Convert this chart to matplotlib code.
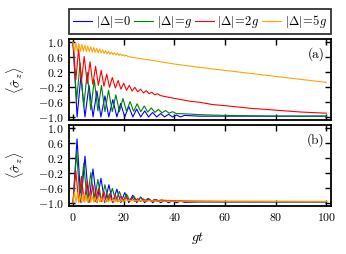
import numpy as np
import matplotlib
matplotlib.use('Agg')
import matplotlib.pyplot as plt
from matplotlib.ticker import FuncFormatter

plt.rcParams['font.family'] = 'serif'
plt.rcParams['font.serif'] = ['cmr10', 'DejaVu Serif']
plt.rcParams['mathtext.fontset'] = 'cm'
plt.rcParams['axes.unicode_minus'] = True

labels = [r'$|\Delta|\!=\!0$', r'$|\Delta|\!=\!g$', r'$|\Delta|\!=\!2g$', r'$|\Delta|\!=\!5g$']
colors = ['#0000ff', '#008000', '#ff0000', '#ffa500']
xticks = [0, 20, 40, 60, 80, 100]
yticks = [-1.0, -0.6, -0.2, 0.2, 0.6, 1.0]

# panel (a): extrema
ta_blue = [0, 1.6, 3.1, 4.7, 6.3, 7.9, 9.4, 11.0, 12.6, 14.1, 15.7, 17.3, 18.8, 20.4, 22.0, 23.6, 25.1, 26.7,
           28.3, 29.8, 31.4, 33.0, 34.6, 36.1, 37.7, 39.3, 40.8, 42.4, 44.0, 50, 60, 70, 80, 90, 100]
va_blue = [1.0, -0.99, 0.1, -0.99, -0.15, -0.99, -0.3, -0.99, -0.43, -0.99, -0.53, -0.99, -0.63, -0.99, -0.71,
           -0.99, -0.78, -0.99, -0.83, -0.99, -0.87, -0.99, -0.9, -0.99, -0.92, -0.99, -0.94, -0.99, -0.95,
           -0.97, -0.97, -0.97, -0.97, -0.97, -0.97]

ta_green = [0, 1.4, 2.8, 4.2, 5.6, 7.0, 8.4, 9.8, 11.2, 12.6, 14.0, 15.5, 16.9, 18.3, 19.7, 21.1, 22.5, 23.9,
            25.3, 26.7, 28.1, 29.5, 30.9, 32.3, 33.7, 35.1, 36.5, 37.9, 39.3, 40.7, 45, 50, 60, 70, 80, 90, 100]
va_green = [1.0, -0.55, 0.45, -0.72, 0.2, -0.8, 0.0, -0.83, -0.15, -0.85, -0.28, -0.85, -0.4, -0.85, -0.5,
            -0.84, -0.58, -0.84, -0.64, -0.85, -0.7, -0.86, -0.75, -0.87, -0.79, -0.88, -0.82, -0.89, -0.85,
            -0.9, -0.91, -0.93, -0.95, -0.96, -0.97, -0.97, -0.97]

ta_red = [0, 1.1, 2.2, 3.3, 4.4, 5.6, 6.7, 7.8, 8.9, 10.0, 11.1, 12.2, 13.3, 14.4, 15.5, 16.7, 17.8, 18.9,
          20.0, 21.1, 22.2, 23.3, 24.4, 25.5, 26.6, 27.8, 28.9, 30.0, 31.1, 32.2, 33.3, 34.4, 38, 42, 46, 50,
          55, 60, 70, 80, 90, 100]
va_red = [1.0, 0.0, 0.82, -0.05, 0.62, -0.1, 0.48, -0.12, 0.36, -0.15, 0.25, -0.17, 0.15, -0.2, 0.06, -0.22,
          -0.02, -0.25, -0.09, -0.28, -0.15, -0.3, -0.2, -0.32, -0.25, -0.35, -0.29, -0.37, -0.33, -0.4, -0.37,
          -0.42, -0.47, -0.52, -0.57, -0.6, -0.66, -0.69, -0.76, -0.81, -0.86, -0.89]

ta_orange = [0, 0.58, 1.17, 1.75, 2.33, 2.92, 3.5, 4.08, 4.67, 5.25, 5.83, 6.42, 7.0, 7.58, 8.17, 8.75, 9.33,
             9.92, 10.5, 11.08, 11.67, 12.25, 12.83, 13.42, 14.0, 14.58, 15.17, 15.75, 16.33, 16.92, 17.5,
             18.08, 18.67, 19.25, 19.83, 20.42, 21.0, 21.58, 25, 30, 40, 50, 60, 70, 80, 90, 100]
va_orange = [1.0, 0.76, 0.97, 0.76, 0.96, 0.76, 0.94, 0.76, 0.92, 0.75, 0.9, 0.75, 0.88, 0.74, 0.86, 0.73,
             0.84, 0.72, 0.82, 0.71, 0.8, 0.7, 0.78, 0.69, 0.76, 0.68, 0.74, 0.67, 0.72, 0.66, 0.71, 0.65,
             0.69, 0.64, 0.67, 0.63, 0.66, 0.62, 0.58, 0.53, 0.42, 0.33, 0.25, 0.17, 0.09, 0.01, -0.07]

# panel (b)
tb_blue = [0, 1.57, 3.14, 4.71, 6.28, 7.85, 9.42, 11.0, 12.57, 14.14, 15.71, 17.28, 18.85, 20.42, 21.99,
           23.56, 25.13, 26.7, 28.27, 29.85, 31.42, 32.99, 34.56, 36.13, 37.7, 39.27, 40.84, 42.41, 43.98,
           50, 60, 100]
vb_blue = [-1.0, 0.7, -1.0, 0.24, -1.0, -0.1, -1.0, -0.35, -1.0, -0.52, -1.0, -0.64, -1.0, -0.73, -1.0,
           -0.8, -1.0, -0.85, -1.0, -0.89, -1.0, -0.92, -1.0, -0.94, -1.0, -0.95, -1.0, -0.96, -0.99,
           -0.98, -0.98, -0.98]

tb_green = [0, 1.4, 2.8, 4.2, 5.6, 7.0, 8.4, 9.8, 11.2, 12.6, 14.0, 15.5, 16.9, 18.3, 19.7, 21.1, 22.5,
            23.9, 25.3, 26.7, 28.1, 29.5, 30.9, 32.3, 33.7, 35.1, 36.5, 37.9, 45, 60, 100]
vb_green = [-1.0, 0.35, -0.97, 0.05, -0.96, -0.2, -0.96, -0.38, -0.96, -0.52, -0.96, -0.62, -0.96, -0.7,
            -0.96, -0.77, -0.96, -0.82, -0.96, -0.86, -0.96, -0.89, -0.96, -0.91, -0.96, -0.93, -0.965,
            -0.94, -0.97, -0.975, -0.975]

tb_red = [0, 1.1, 2.2, 3.3, 4.4, 5.6, 6.7, 7.8, 8.9, 10.0, 11.1, 12.2, 13.3, 14.4, 15.5, 16.7, 17.8, 18.9,
          20.0, 21.1, 22.2, 23.3, 24.4, 25.5, 26.6, 27.8, 28.9, 30.0, 31.1, 32.2, 33.3, 34.4, 40, 60, 100]
vb_red = [-1.0, -0.15, -0.98, -0.3, -0.97, -0.42, -0.97, -0.53, -0.97, -0.62, -0.97, -0.7, -0.97, -0.76,
          -0.97, -0.8, -0.97, -0.83, -0.97, -0.85, -0.97, -0.87, -0.97, -0.89, -0.97, -0.9, -0.97, -0.91,
          -0.97, -0.92, -0.97, -0.93, -0.95, -0.965, -0.97]

tb_orange = [0, 0.58, 1.17, 1.75, 2.33, 2.92, 3.5, 4.08, 4.67, 5.25, 5.83, 6.42, 7.0, 7.58, 8.17, 8.75, 9.33,
             9.92, 10.5, 11.08, 11.67, 12.25, 12.83, 13.42, 14.0, 14.58, 15.17, 15.75, 16.33, 16.92, 17.5,
             18.08, 18.67, 19.25, 19.83, 20.42, 25, 40, 100]
vb_orange = [-1.0, -0.72, -0.99, -0.74, -0.99, -0.76, -0.99, -0.78, -0.99, -0.8, -0.99, -0.82, -0.99, -0.83,
             -0.99, -0.85, -0.99, -0.86, -0.98, -0.87, -0.98, -0.88, -0.98, -0.89, -0.98, -0.9, -0.98, -0.91,
             -0.98, -0.91, -0.98, -0.92, -0.98, -0.92, -0.98, -0.93, -0.95, -0.96, -0.965]

panel_a = [(ta_blue, va_blue), (ta_green, va_green), (ta_red, va_red), (ta_orange, va_orange)]
panel_b = [(tb_blue, vb_blue), (tb_green, vb_green), (tb_red, vb_red), (tb_orange, vb_orange)]

fig = plt.figure(figsize=(3.46, 2.54), dpi=100)
ax1 = fig.add_axes([0.1994, 0.5264, 0.7572, 0.319])
ax2 = fig.add_axes([0.1994, 0.1902, 0.7572, 0.319])

lines = []
for ax, data, tag in [(ax1, panel_a, '(a)'), (ax2, panel_b, '(b)')]:
    for (t, v), c, lab in zip(data, colors, labels):
        l, = ax.plot(t, v, color=c, lw=0.8, label=lab)
        if ax is ax1:
            lines.append(l)
    ax.set_xlim(-1.6, 101.8)
    ax.set_ylim(-1.08, 1.08)
    ax.set_xticks(xticks)
    ax.set_yticks(yticks)
    ax.tick_params(direction='in', top=True, right=True, length=4, width=1, labelsize=8.5, pad=4)
    ax.yaxis.set_major_formatter(FuncFormatter(lambda v, p: r'$%.1f$' % v))
    ax.xaxis.set_major_formatter(FuncFormatter(lambda v, p: r'$%d$' % v))
    for s in ax.spines.values():
        s.set_linewidth(1.3)
    ax.set_ylabel(r'$\langle\hat{\sigma}_z\rangle$', fontsize=10)
    ax.yaxis.set_label_coords(-0.165, 0.5)
    ax.text(0.975, 0.9, tag, transform=ax.transAxes, ha='right', va='top', fontsize=9.5)

ax1.tick_params(labelbottom=False)
ax2.set_xlabel(r'$gt$', fontsize=10)
ax2.xaxis.set_label_coords(0.49, -0.3)

leg = fig.legend(lines, labels, loc='center', ncol=4, mode='expand',
                 bbox_to_anchor=(69 / 346, 1 - 33.5 / 254, 262 / 346, 24 / 254),
                 fontsize=9, handlelength=1.5, handletextpad=0.3, columnspacing=0.4,
                 fancybox=False, borderaxespad=0, borderpad=0.35)
leg.get_frame().set_edgecolor('black')
leg.get_frame().set_linewidth(1.3)

fig.savefig('out.png', dpi=100)
